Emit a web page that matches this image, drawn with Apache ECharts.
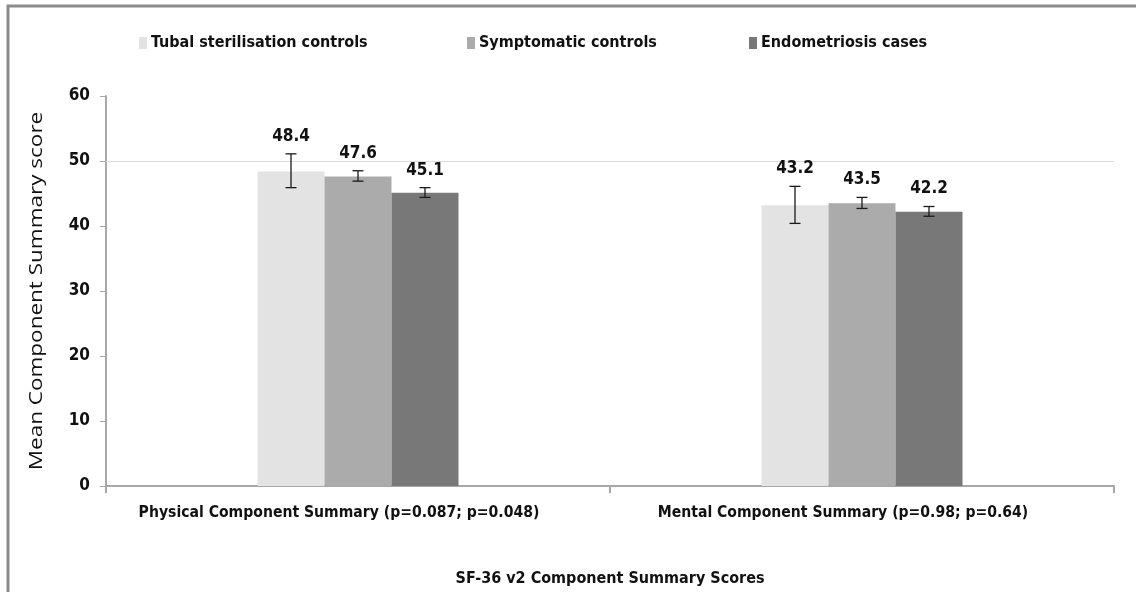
<!DOCTYPE html>
<html>
<head>
<meta charset="utf-8">
<script src="https://cdn.jsdelivr.net/npm/echarts@6/dist/echarts.min.js"></script>
<style>
  html, body { margin: 0; padding: 0; background: #fff; }
  #chart { width: 1136px; height: 592px; }
</style>
</head>
<body>
<div id="chart"></div>
<script>
// SF-36 v2 component summary scores by group (mean with error range)
const categories = [
  'Physical Component Summary (p=0.087; p=0.048)',
  'Mental Component Summary (p=0.98; p=0.64)'
];
const groupNames = ['Tubal sterilisation controls', 'Symptomatic controls', 'Endometriosis cases'];
const groupColors = ['#e3e3e3', '#ababab', '#787878'];

const tubalMeans = [48.4, 43.2];
const symptomaticMeans = [47.6, 43.5];
const endoMeans = [45.1, 42.2];

// lower / upper ends of the error bars
const tubalLow = [45.9, 40.4];
const tubalHigh = [51.1, 46.1];
const symptomaticLow = [46.9, 42.7];
const symptomaticHigh = [48.5, 44.4];
const endoLow = [44.4, 41.5];
const endoHigh = [45.9, 43.0];

const yTicks = { min: 0, max: 60, interval: 10 };
const yAxisTitle = 'Mean Component Summary score';

const means = [tubalMeans, symptomaticMeans, endoMeans];
const lows = [tubalLow, symptomaticLow, endoLow];
const highs = [tubalHigh, symptomaticHigh, endoHigh];

const FONT = '"DejaVu Sans Condensed", sans-serif';
const BAR_W = 67;

const chart = echarts.init(document.getElementById('chart'), null, { renderer: 'canvas' });

const series = [];
groupNames.forEach((name, gi) => {
  series.push({
    name: name,
    type: 'bar',
    data: means[gi],
    barWidth: BAR_W,
    barGap: '0%',
    itemStyle: { color: groupColors[gi] },
    silent: true,
    markLine: gi === 0 ? {
      silent: true,
      symbol: 'none',
      label: { show: false },
      lineStyle: { color: '#dcdcdc', width: 1, type: 'solid' },
      data: [{ yAxis: 50 }]
    } : undefined
  });
});

// error bars with value labels above them
groupNames.forEach((name, gi) => {
  const rows = categories.map((c, ci) => [ci, lows[gi][ci], highs[gi][ci], means[gi][ci]]);
  series.push({
    type: 'custom',
    silent: true,
    z: 10,
    data: rows,
    renderItem: function (params, api) {
      const ci = api.value(0);
      const lo = api.coord([ci, api.value(1)]);
      const hi = api.coord([ci, api.value(2)]);
      const x = lo[0] + (gi - 1) * BAR_W;
      const cap = 5.5;
      const style = { stroke: '#1a1a1a', lineWidth: 1.3 };
      return {
        type: 'group',
        children: [
          { type: 'line', shape: { x1: x, y1: hi[1], x2: x, y2: lo[1] }, style: style },
          { type: 'line', shape: { x1: x - cap, y1: hi[1], x2: x + cap, y2: hi[1] }, style: style },
          { type: 'line', shape: { x1: x - cap, y1: lo[1], x2: x + cap, y2: lo[1] }, style: style },
          {
            type: 'text',
            x: x,
            y: hi[1] - 9,
            style: {
              text: api.value(3).toFixed(1),
              fill: '#111',
              font: 'bold 17px ' + FONT,
              align: 'center',
              verticalAlign: 'bottom'
            }
          }
        ]
      };
    }
  });
});

const legendLefts = [139, 467, 749];
const legends = groupNames.map((name, i) => ({
  data: [name],
  left: legendLefts[i],
  top: 35,
  padding: 0,
  icon: 'rect',
  itemWidth: 8,
  itemHeight: 12,
  itemGap: 0,
  selectedMode: false,
  textStyle: { fontFamily: FONT, fontWeight: 'bold', fontSize: 16, color: '#111', padding: [0, 0, 0, -1] }
}));

chart.setOption({
  animation: false,
  backgroundColor: '#fff',
  legend: legends,
  grid: { left: 106, right: 22, top: 96, bottom: 106 },
  xAxis: {
    type: 'category',
    data: categories,
    name: 'SF-36 v2 Component Summary Scores',
    nameLocation: 'middle',
    nameGap: 85,
    nameTextStyle: { fontFamily: FONT, fontWeight: 'bold', fontSize: 16, color: '#111' },
    axisLine: { lineStyle: { color: '#a8a8a8', width: 2 } },
    axisTick: { show: true, alignWithLabel: false, length: 7, lineStyle: { color: '#a8a8a8', width: 2 } },
    axisLabel: {
      interval: 0,
      fontFamily: FONT, fontWeight: 'bold', fontSize: 15.6, color: '#111',
      margin: 19,
      padding: [0, 38, 0, 0]
    },
    splitLine: { show: false }
  },
  yAxis: {
    type: 'value',
    min: yTicks.min,
    max: yTicks.max,
    interval: yTicks.interval,
    axisLine: { show: true, lineStyle: { color: '#a8a8a8', width: 2 } },
    axisTick: { show: true, length: 6, lineStyle: { color: '#a8a8a8', width: 1 } },
    axisLabel: { fontFamily: FONT, fontWeight: 'bold', fontSize: 17, color: '#111', margin: 16 },
    splitLine: { show: false }
  },
  graphic: [
    {
      type: 'polyline',
      silent: true,
      shape: { points: [[8, 600], [8, 6], [1140, 6]] },
      style: { stroke: '#8c8c8c', lineWidth: 3, fill: null }
    },
    {
      // rotated y-axis title, stretched along its baseline
      type: 'text',
      silent: true,
      x: 37,
      y: 291,
      rotation: Math.PI / 2,
      scaleX: 1.25,
      style: {
        text: yAxisTitle,
        font: '18px "Open Sans", sans-serif',
        fill: '#111',
        align: 'center',
        verticalAlign: 'middle'
      }
    }
  ],
  series: series
});
</script>
</body>
</html>
